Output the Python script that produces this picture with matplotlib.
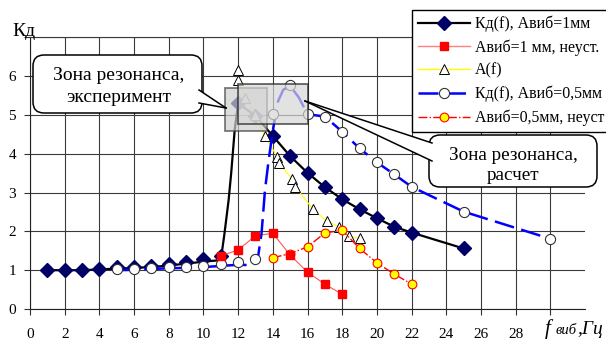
import matplotlib.pyplot as plt
from matplotlib.patches import FancyBboxPatch, Polygon, Rectangle
from matplotlib.lines import Line2D
from matplotlib.transforms import Affine2D

# Кд(f), Авиб=1мм - markers
kd1_x = [1, 2, 3, 4, 5, 6, 7, 8, 9, 10, 11, 12, 13, 14, 15, 16, 17, 18, 19, 20, 21, 22, 25]
kd1_y = [1.0, 1.0, 1.0, 1.03, 1.08, 1.09, 1.12, 1.16, 1.21, 1.29, 1.37, 5.3, 4.98, 4.46,
         3.94, 3.51, 3.14, 2.83, 2.57, 2.34, 2.12, 1.97, 1.56]
# smoothed curve as drawn
kd1_lx = [1, 2, 3, 4, 5, 6, 7, 8, 9, 10, 10.5, 11, 11.2, 11.45, 11.6, 11.8, 12, 13, 14, 15,
          16, 17, 18, 19, 20, 21, 22, 25]
kd1_ly = [1.0, 1.0, 1.0, 1.02, 1.04, 1.06, 1.08, 1.12, 1.17, 1.22, 1.24, 1.26, 1.9, 2.8, 3.5,
          4.6, 5.3, 4.98, 4.46, 3.94, 3.51, 3.14, 2.83, 2.57, 2.34, 2.12, 1.97, 1.56]

# Авиб=1 мм, неуст.
r1_x = [11, 12, 13, 14, 15, 16, 17, 18]
r1_y = [1.37, 1.52, 1.89, 1.95, 1.39, 0.95, 0.64, 0.38]

# A(f)
a_x = [12.0, 12.0, 12.4, 13.0, 13.55, 14.25, 14.35, 15.1, 15.3, 16.3, 17.1, 17.8, 18.4, 19.0]
a_y = [6.16, 5.9, 5.45, 5.0, 4.45, 3.93, 3.77, 3.35, 3.15, 2.58, 2.27, 2.12, 1.87, 1.82]

# Кд(f), Авиб=0,5мм
kd2_x = [5, 6, 7, 8, 9, 10, 11, 12, 13, 14, 15, 16, 17, 18, 19, 20, 21, 22, 25, 30]
kd2_y = [1.03, 1.03, 1.06, 1.08, 1.09, 1.12, 1.16, 1.21, 1.28, 5.02, 5.77, 5.02, 4.96,
         4.57, 4.14, 3.78, 3.47, 3.15, 2.51, 1.81]
kd2_lx = [5, 6, 7, 8, 9, 10, 11, 12, 12.8, 13.1, 13.35, 13.55, 13.75, 14.0, 14.3, 14.6,
          15.0, 15.5, 16, 17, 18, 19, 20, 21, 22, 25, 30]
kd2_ly = [1.0, 1.01, 1.03, 1.05, 1.06, 1.08, 1.11, 1.14, 1.13, 1.2, 1.95, 3.07, 3.8, 4.6,
          5.35, 5.65, 5.75, 5.45, 5.02, 4.96, 4.57, 4.14, 3.78, 3.47, 3.15, 2.51, 1.81]

# Авиб=0,5мм, неуст
r2_x = [14, 15, 16, 17, 18, 19, 20, 21, 22]
r2_y = [1.32, 1.43, 1.6, 1.96, 2.03, 1.56, 1.19, 0.9, 0.64]

labels = ["Кд(f), Авиб=1мм", "Авиб=1 мм, неуст.", "A(f)",
          "Кд(f), Авиб=0,5мм", "Авиб=0,5мм, неуст"]

plt.rcParams['font.family'] = ['Liberation Serif', 'DejaVu Serif']

W, H = 606, 344
fig = plt.figure(figsize=(W / 100, H / 100), dpi=100)
ax = fig.add_axes([30 / W, 1 - 309 / H, 555 / W, 271.6 / H])
# image pixel coords -> display
pxt = Affine2D().scale(1 / 100, -1 / 100).translate(0, H / 100) + fig.dpi_scale_trans

ax.set_xlim(0, 32)
ax.set_ylim(0, 7)
ax.set_xticks(range(0, 31, 2))
ax.set_xticklabels([str(v) for v in range(0, 29, 2)] + [""])
ax.set_yticks(range(0, 8))
ax.set_yticklabels([str(v) for v in range(0, 7)] + [""])
ax.grid(True, color="#3a3a3a", lw=0.8)
ax.set_axisbelow(True)
ax.tick_params(axis="x", direction="out", length=4, color="#333333", labelsize=11, pad=10)
ax.tick_params(axis="y", direction="out", length=4, color="#333333", labelsize=11, pad=6)
ax.spines["right"].set_visible(False)
ax.spines["top"].set_color("#3a3a3a")
ax.spines["top"].set_linewidth(0.8)
for s in ("left", "bottom"):
    ax.spines[s].set_color("#222222")

navy = "#000066"
blue_dash = (8, 3)

ax.plot(kd1_lx, kd1_ly, color="black", lw=1.6, zorder=3)
ax.plot(kd1_x, kd1_y, ls="none", marker="D", ms=6.8, mfc=navy, mec=navy, zorder=3)

ax.plot(r1_x, r1_y, color="#ff5555", lw=0.8, zorder=4)
ax.plot(r1_x, r1_y, ls="none", marker="s", ms=5.5, mfc="red", mec="red", zorder=6)

ax.plot(a_x, a_y, color="#ffff00", lw=0.8, zorder=4)
ax.plot(a_x, a_y, ls="none", marker="^", ms=7, mfc="white", mec="black", mew=0.7, zorder=4)

ax.plot(kd2_lx, kd2_ly, color="#0000ff", lw=1.8, dashes=blue_dash, zorder=4)
ax.plot(kd2_x, kd2_y, ls="none", marker="o", ms=7.3, mfc="white", mec="#333333", mew=0.8, zorder=5)

ax.plot(r2_x, r2_y, color="red", lw=1, ls="-.", zorder=4)
ax.plot(r2_x, r2_y, ls="none", marker="o", ms=6.3, mfc="#ffff00", mec="red", mew=0.8, zorder=5)

# resonance zone boxes
ax.add_patch(Rectangle((11.27, 4.6), 13.64 - 11.27, 5.7 - 4.6, fc="#cfcfcf", alpha=0.7,
                       ec="#444444", lw=1.3, zorder=7))
ax.add_patch(Rectangle((12.0, 4.77), 16.04 - 12.0, 5.8 - 4.77, fc="#d6d6d6", alpha=0.7,
                       ec="#222222", lw=1.3, zorder=8))


def callout(x0, y0, x1, y1, tail, lines, fs):
    box = FancyBboxPatch((x0, y0), x1 - x0, y1 - y0, boxstyle="round,pad=0,rounding_size=11",
                         transform=pxt, fc="white", ec="black", lw=1.1, zorder=10, clip_on=False)
    ax.add_patch(box)
    ax.add_patch(Polygon(tail, closed=True, transform=pxt, fc="white", ec="none",
                         zorder=11, clip_on=False))
    for p in (tail[0], tail[2]):
        ax.add_line(Line2D([p[0], tail[1][0]], [p[1], tail[1][1]], transform=pxt,
                           color="black", lw=1.1, zorder=12, clip_on=False))
    for (tx, ty, s) in lines:
        ax.text(tx, ty, s, transform=pxt, ha="center", va="center", fontsize=fs, zorder=13)


callout(33, 55, 202, 113, [(199, 90), (226, 108), (199, 103)],
        [(119, 76, "Зона резонанса,"), (119, 97, "эксперимент")], 14)
callout(429, 135, 597, 187, [(432, 143), (305, 101), (432, 161)],
        [(513, 156, "Зона резонанса,"), (513, 176, "расчет")], 13.8)

# axis labels
ax.text(24, 32, "Кд", transform=pxt, ha="center", va="center", fontsize=14)
ax.text(545, 334, "f", transform=pxt, ha="left", va="baseline", fontsize=15, style="italic")
ax.text(556, 334, "виб", transform=pxt, ha="left", va="baseline", fontsize=10.5, style="italic")
ax.text(577, 334, ",Гц", transform=pxt, ha="left", va="baseline", fontsize=14, style="italic")

handles = [
    Line2D([], [], color="black", lw=1.6, marker="D", ms=6.8, mfc=navy, mec=navy),
    Line2D([], [], color="#ff8080", lw=1, marker="s", ms=5.5, mfc="red", mec="red"),
    Line2D([], [], color="#ffff00", lw=1, marker="^", ms=7, mfc="white", mec="black", mew=0.7),
    Line2D([], [], color="#0000ff", lw=1.8, dashes=blue_dash, marker="o", ms=7.3, mfc="white",
           mec="#333333", mew=0.8),
    Line2D([], [], color="red", lw=1, ls="-.", marker="o", ms=6.3, mfc="#ffff00", mec="red", mew=0.8),
]
leg = ax.legend(handles, labels, loc="upper left", bbox_to_anchor=(412 / W, 1 - 10 / H),
                bbox_transform=fig.transFigure, fontsize=11.4, frameon=True, fancybox=False,
                edgecolor="black", framealpha=1, handlelength=3.3, handletextpad=0.35,
                labelspacing=0.45, borderpad=0.35, borderaxespad=0)
leg.get_frame().set_linewidth(1.0)
leg.set_zorder(20)

fig.savefig("out.png", dpi=100)
